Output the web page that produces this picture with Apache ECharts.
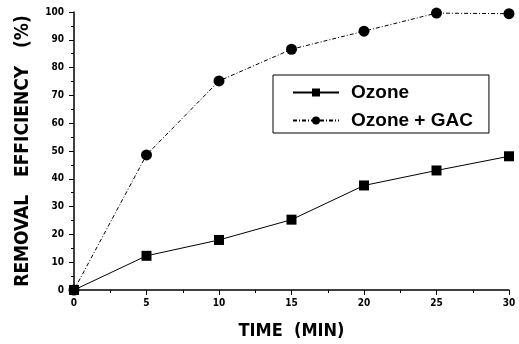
<!DOCTYPE html>
<html><head><meta charset="utf-8">
<script src="https://cdn.jsdelivr.net/npm/echarts@6/dist/echarts.min.js"></script>
<style>html,body{margin:0;padding:0;background:#fff}#c{width:519px;height:344px}</style>
</head><body><div id="c"></div>
<script>
var times = [0, 5, 10, 15, 20, 25, 30];
var ozone = [0, 12.3, 18.0, 25.3, 37.6, 43.0, 48.1];
var ozoneGac = [0, 48.6, 75.2, 86.6, 93.1, 99.6, 99.4];
var seriesNames = ['Ozone', 'Ozone + GAC'];
var xTitle = 'TIME  (MIN)';
var yTitle = 'REMOVAL   EFFICIENCY   (%)';

function pairs(xs, ys) { return xs.map(function (x, i) { return [x, ys[i]]; }); }

var chart = echarts.init(document.getElementById('c'), null, {renderer: 'canvas'});
var condensed = '"DejaVu Sans Condensed", "Liberation Sans", sans-serif';
var labelFont = {color: '#000', fontSize: 10, fontWeight: 'bold', fontFamily: condensed};
chart.setOption({
  animation: false,
  backgroundColor: '#fff',
  grid: {left: 74, right: 10, top: 12, bottom: 54, containLabel: false, outerBoundsMode: 'none'},
  legend: {
    orient: 'vertical', left: 273, top: 75,
    borderColor: '#000', borderWidth: 1,
    padding: [8, 16, 3, 19], itemGap: 9,
    itemWidth: 46, itemHeight: 10,
    textStyle: {color: '#000', fontSize: 19, fontWeight: 'bold', fontFamily: 'Liberation Sans', padding: [0, 0, 0, 7]},
    data: seriesNames
  },
  xAxis: {
    type: 'value', min: 0, max: 30, interval: 5,
    name: xTitle, nameLocation: 'middle', nameGap: 32,
    nameTextStyle: {color: '#000', fontSize: 18, fontWeight: 'bold', fontFamily: condensed},
    axisLine: {show: true, lineStyle: {color: '#000', width: 1.5}},
    axisTick: {show: true, inside: false, length: 5, lineStyle: {color: '#000'}},
    minorTick: {show: true, splitNumber: 2, length: 3, lineStyle: {color: '#000'}},
    axisLabel: Object.assign({margin: 8}, labelFont),
    splitLine: {show: false}
  },
  yAxis: {
    type: 'value', min: 0, max: 100, interval: 10,
    name: yTitle, nameLocation: 'middle', nameGap: 41,
    nameTextStyle: {color: '#000', fontSize: 19, fontWeight: 'bold', fontFamily: condensed},
    axisLine: {show: true, lineStyle: {color: '#000', width: 1.5}},
    axisTick: {show: true, inside: false, length: 5, lineStyle: {color: '#000'}},
    minorTick: {show: true, splitNumber: 2, length: 3, lineStyle: {color: '#000'}},
    axisLabel: Object.assign({margin: 10}, labelFont),
    splitLine: {show: false}
  },
  series: [
    {
      name: seriesNames[0], type: 'line', data: pairs(times, ozone),
      symbol: 'rect', symbolSize: 10,
      itemStyle: {color: '#000'},
      lineStyle: {color: '#000', width: 1, type: 'solid'}
    },
    {
      name: seriesNames[1], type: 'line', data: pairs(times, ozoneGac),
      symbol: 'circle', symbolSize: 11,
      itemStyle: {color: '#000'},
      lineStyle: {color: '#000', width: 1, type: [4, 2, 1, 2]}
    }
  ]
});
</script></body></html>
